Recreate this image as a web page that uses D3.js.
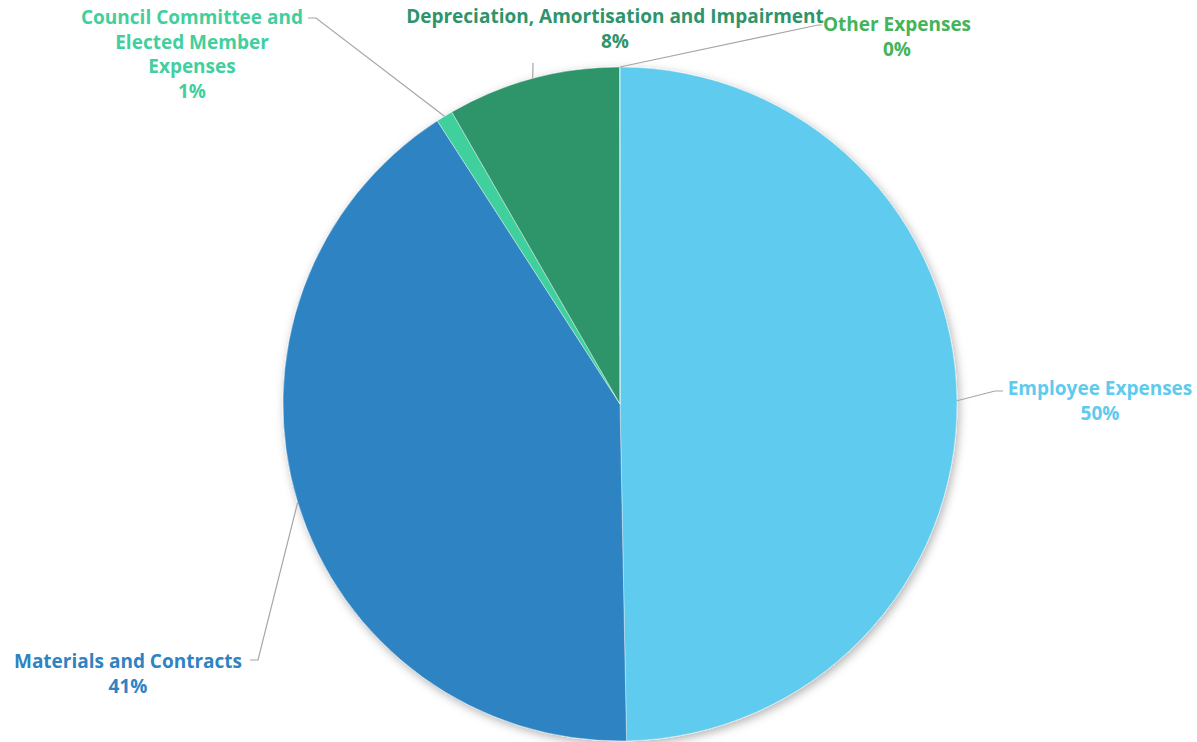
<!DOCTYPE html>
<html>
<head>
<meta charset="utf-8">
<script src="https://d3js.org/d3.v7.min.js"></script>
<style>
  body { margin: 0; background: #fff; }
  svg text { font-family: "Open Sans", sans-serif; font-weight: bold; font-size: 19px; }
</style>
</head>
<body>
<div id="chart"></div>
<script>
// slice data
var categories = ["Employee Expenses", "Materials and Contracts", "Council Committee and Elected Member Expenses",
    "Depreciation, Amortisation and Impairment", "Other Expenses"];
var values = [49.7, 41.2, 0.8, 8.3, 0.02];
var colors = ["#5ecbee", "#2e83c3", "#41d09d", "#2e946b", "#45b35a"];

// label layout (text lines + where the text sits + elbow of leader)
var labelLines = [
    ["Employee Expenses"],
    ["Materials and Contracts"],
    ["Council Committee and", "Elected Member", "Expenses"],
    ["Depreciation, Amortisation and Impairment"],
    ["Other Expenses"]
];
var labelPos = [
    {x: 1100, y: 395, elbow: [995, 391], end: [1003, 391]},
    {x: 128, y: 668, elbow: [258, 660], end: [250, 660]},
    {x: 192, y: 24, elbow: [316, 18], end: [308, 18]},
    {x: 615, y: 23, elbow: [533, 63], end: [533, 63]},
    {x: 897, y: 31, elbow: [818, 25], end: [822, 25]}
];

var width = 1197, height = 742;
var cx = 620, cy = 404, r = 337;

var svg = d3.select("#chart").append("svg")
    .attr("width", width)
    .attr("height", height);

var defs = svg.append("defs");
var filter = defs.append("filter").attr("id", "shadow")
    .attr("x", "-10%").attr("y", "-10%").attr("width", "120%").attr("height", "120%");
filter.append("feDropShadow")
    .attr("dx", 2).attr("dy", 3)
    .attr("stdDeviation", 5)
    .attr("flood-color", "#000")
    .attr("flood-opacity", 0.3);

var pie = d3.pie().sort(null).value(function(d) { return d; });
var arc = d3.arc().innerRadius(0).outerRadius(r);
var arcs = pie(values);

var g = svg.append("g").attr("transform", "translate(" + cx + "," + cy + ")");

g.append("g").attr("filter", "url(#shadow)")
    .selectAll("path")
    .data(arcs)
    .enter()
    .append("path")
    .attr("d", arc)
    .attr("fill", function(d, i) { return colors[i]; })
    .attr("stroke", "#fff")
    .attr("stroke-width", 0.4);

// leader lines
svg.selectAll("polyline.leader")
    .data(arcs)
    .enter()
    .append("polyline")
    .attr("class", "leader")
    .attr("fill", "none")
    .attr("stroke", "#a6a6a6")
    .attr("stroke-width", 1.2)
    .attr("points", function(d, i) {
        var a = (d.startAngle + d.endAngle) / 2;
        var p0 = [cx + r * Math.sin(a), cy - r * Math.cos(a)];
        var lp = labelPos[i];
        return [p0, lp.elbow, lp.end].map(function(p) { return p.join(","); }).join(" ");
    });

// labels
var labels = svg.selectAll("text.label")
    .data(arcs)
    .enter()
    .append("text")
    .attr("class", "label")
    .attr("text-anchor", "middle")
    .attr("fill", function(d, i) { return colors[i]; })
    .attr("x", function(d, i) { return labelPos[i].x; })
    .attr("y", function(d, i) { return labelPos[i].y; });

labels.each(function(d, i) {
    var t = d3.select(this);
    var lines = labelLines[i].concat([Math.round(values[i]) + "%"]);
    lines.forEach(function(line, j) {
        t.append("tspan")
            .attr("x", labelPos[i].x)
            .attr("dy", j === 0 ? 0 : 24.5)
            .text(line);
    });
});
</script>
</body>
</html>
